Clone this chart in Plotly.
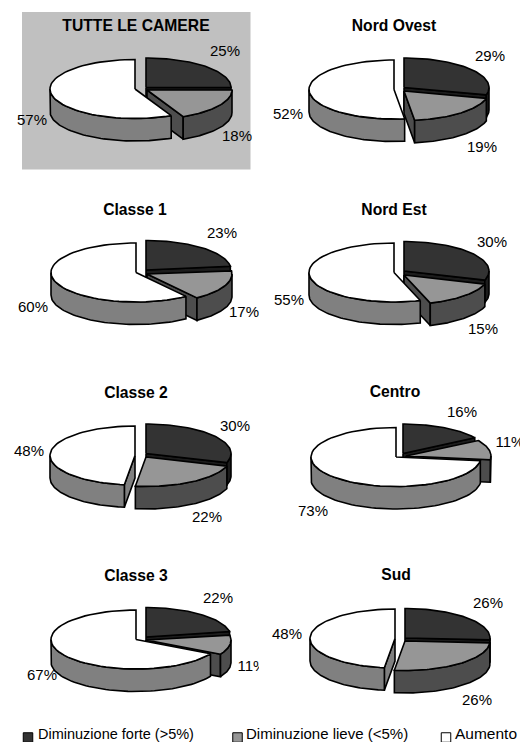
import numpy as np
import plotly.graph_objects as go

chart_titles = ["TUTTE LE CAMERE", "Nord Ovest", "Classe 1", "Nord Est", "Classe 2", "Centro", "Classe 3", "Sud"]
forte = [25, 29, 23, 30, 30, 16, 22, 26]
lieve = [18, 19, 17, 15, 22, 11, 11, 26]
aumento = [57, 52, 60, 55, 48, 73, 67, 48]
series_names = ["Diminuzione forte (>5%)", "Diminuzione lieve (<5%)", "Aumento"]

# layout (page pixels)
W, H = 520, 742
RX, RY, DEPTH = 85, 29.5, 22.5
top_col = ["#333333", "#969696", "#ffffff"]
side_col = ["#1c1c1c", "#4d4d4d", "#808080"]
centers = [
    [(146, 87.5), (147, 90), (135, 89)],
    [(404, 87.5), (404, 91), (394, 89.5)],
    [(146, 270), (147, 274), (136, 272.5)],
    [(404, 271), (404, 275), (394, 272.5)],
    [(146, 453.5), (146, 457), (135, 455.5)],
    [(403, 453.5), (406, 456), (396, 457)],
    [(146, 637), (146, 640), (136, 639.5)],
    [(405, 638), (405, 641), (395, 638.5)],
]
title_pos = [(136, 27), (394, 27), (135, 211), (394, 211), (136, 394), (395, 393), (136, 577), (396, 576)]
label_pos = [
    [(225, 52), (237, 137), (32, 121)],
    [(490, 57), (482, 148), (288, 115)],
    [(222, 234), (244, 313), (33, 308)],
    [(492, 243), (483, 330), (289, 301)],
    [(235, 427), (207, 518), (29, 452)],
    [(462, 413), (510, 443), (313, 512)],
    [(218, 599), (252, 667), (42, 676)],
    [(488, 604), (477, 701), (287, 635)],
]
FONT = "Liberation Sans, Arial, sans-serif"

fig = go.Figure()


def poly(xs, ys, color):
    fig.add_trace(go.Scatter(x=xs, y=ys, mode="lines", fill="toself", fillcolor=color,
                             line=dict(color="#000000", width=1.6), hoverinfo="skip", showlegend=False))


def rim(c, a, b, n=60):
    t = np.radians(np.linspace(a, b, n))
    return c[0] + RX * np.sin(t), c[1] - RY * np.cos(t)


def draw_slice(c, a, b, top, side):
    # radial cut faces
    for ang, vis in ((a, np.sin(np.radians(a)) < -1e-6), (b, np.sin(np.radians(b)) > 1e-6)):
        if vis:
            rx, ry = rim(c, ang, ang, 1)
            poly([c[0], rx[0], rx[0], c[0], c[0]],
                 [c[1], ry[0], ry[0] + DEPTH, c[1] + DEPTH, c[1]], side)
    # outer wall: only the front half of the ellipse is visible
    lo, hi = max(a, 90), min(b, 270)
    if hi > lo:
        rx, ry = rim(c, lo, hi)
        poly(list(rx) + list(rx[::-1]) + [rx[0]],
             list(ry) + list(ry[::-1] + DEPTH) + [ry[0]], side)
    # top
    rx, ry = rim(c, a, b)
    poly([c[0]] + list(rx) + [c[0]], [c[1]] + list(ry) + [c[1]], top)


for i, vals in enumerate(zip(forte, lieve, aumento)):
    start = 0.0
    for k, v in enumerate(vals):
        end = start + v * 3.6 * 100 / sum(vals)
        draw_slice(centers[i][k], start, end, top_col[k], side_col[k])
        start = end

# text
lx, ly, lt = [], [], []
for i, vals in enumerate(zip(forte, lieve, aumento)):
    for k, v in enumerate(vals):
        lx.append(label_pos[i][k][0]); ly.append(label_pos[i][k][1]); lt.append(f"{v}%")
fig.add_trace(go.Scatter(x=lx, y=ly, text=lt, mode="text", textposition="middle center",
                         textfont=dict(family=FONT, size=15, color="#000000"),
                         hoverinfo="skip", showlegend=False))
# the chart area clips the "11%" of Classe 3
fig.add_trace(go.Scatter(x=[259, 270, 270, 259, 259], y=[655, 655, 680, 680, 655], mode="lines", fill="toself",
                         fillcolor="#ffffff", line=dict(width=0), hoverinfo="skip", showlegend=False))
fig.add_trace(go.Scatter(x=[p[0] for p in title_pos], y=[p[1] for p in title_pos], text=[f"<b>{t}</b>" for t in chart_titles],
                         mode="text", textposition="middle center",
                         textfont=dict(family=FONT, size=15.7, color="#000000"),
                         hoverinfo="skip", showlegend=False))

# legend
leg_marker_x = [28, 237.5, 446]
leg_text_x = [38, 246, 455]
fig.add_trace(go.Scatter(x=leg_marker_x, y=[737.5] * 3, mode="markers",
                         marker=dict(symbol="square", size=9.5, color=top_col, line=dict(color="#000000", width=1)),
                         hoverinfo="skip", showlegend=False))
fig.add_trace(go.Scatter(x=leg_text_x, y=[735.5] * 3, text=series_names, mode="text", textposition="middle right",
                         textfont=dict(family=FONT, size=[14.5, 15, 15.5], color="#000000"),
                         hoverinfo="skip", showlegend=False))

fig.update_layout(
    width=W, height=H, margin=dict(l=0, r=0, t=0, b=0), paper_bgcolor="#ffffff", plot_bgcolor="#ffffff",
    xaxis=dict(range=[0, W], visible=False, fixedrange=True),
    yaxis=dict(range=[H, 0], visible=False, fixedrange=True),
    shapes=[dict(type="rect", x0=22, x1=250.5, y0=12, y1=169.5, fillcolor="#c0c0c0", line=dict(width=0), layer="below")],
)
fig.write_html("out.html", config={"displayModeBar": False},
               post_script="document.body.style.margin='0';document.documentElement.style.overflow='hidden';")
